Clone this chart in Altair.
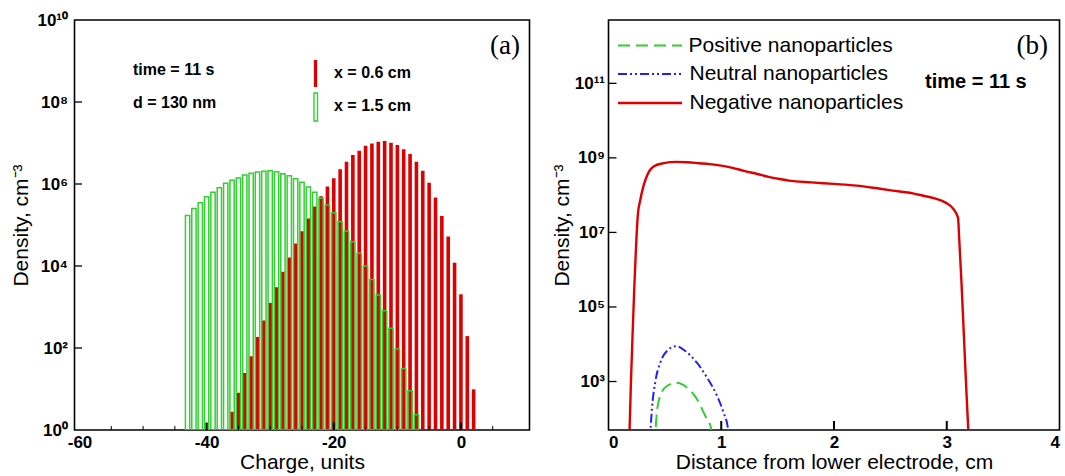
import altair as alt
import pandas as pd

# ---------------- Panel (a): charge distribution ----------------
charge_green = list(range(-43, -6))          # x = 1.5 cm
dens_green = [1.70e5, 2.51e5, 3.47e5, 4.90e5, 6.31e5, 8.13e5, 1.05e6, 1.23e6,
              1.41e6, 1.66e6, 1.82e6, 1.95e6, 2.04e6, 2.09e6, 2.00e6, 1.78e6,
              1.58e6, 1.35e6, 1.10e6, 8.5e5, 6.3e5, 4.47e5, 3.09e5, 2.0e5,
              1.2e5, 7.08e4, 3.89e4, 2.04e4, 1.0e4, 4.68e3, 1.95e3, 813,
              302, 95, 31.6, 9.1, 2.34]
charge_red = list(range(-36, 3))             # x = 0.6 cm
dens_red = [2.8, 8.1, 24.5, 63, 186, 468, 1.26e3, 3.02e3, 7.24e3, 1.62e4,
            3.55e4, 7.08e4, 1.45e5, 2.82e5, 5.01e5, 8.71e5, 1.38e6, 2.29e6,
            3.47e6, 5.13e6, 6.46e6, 8.51e6, 9.77e6, 1.07e7, 1.12e7, 1.02e7,
            8.91e6, 7.08e6, 5.37e6, 3.47e6, 2.09e6, 1.07e6, 4.68e5, 1.66e5,
            5.25e4, 1.2e4, 2.04e3, 195, 9.8]
a_xticks = [-60, -40, -20, 0]
a_xminor = [-55, -50, -45, -35, -30, -25, -15, -10, -5, 5]
a_yticks = [1, 100, 10000, 1000000, 100000000, 10000000000]
a_ylabels = ["10⁰", "10²", "10⁴", "10⁶", "10⁸", "10¹⁰"]

# ---------------- Panel (b): spatial profiles ----------------
neg_x = [0.183, 0.198, 0.213, 0.228, 0.243, 0.26, 0.281, 0.311, 0.346, 0.40,
         0.49, 0.60, 0.70, 0.80, 0.90, 1.00, 1.10, 1.20, 1.32, 1.42, 1.52,
         1.60, 1.80, 2.00, 2.20, 2.41, 2.60, 2.70, 2.80, 2.90, 2.99, 3.06,
         3.10, 3.11, 3.13, 3.15, 3.17, 3.19, 3.20]
neg_n = [20, 760, 1.66e4, 2.9e5, 3.4e6, 2.9e7, 7.2e7, 1.8e8, 3.6e8, 5.9e8,
         7.2e8, 7.8e8, 7.6e8, 7.2e8, 6.8e8, 6.2e8, 5.4e8, 4.5e8, 3.7e8, 3.1e8,
         2.7e8, 2.45e8, 2.2e8, 2.0e8, 1.8e8, 1.48e8, 1.23e8, 1.12e8, 9.5e7,
         8.1e7, 6.3e7, 4.2e7, 2.5e7, 7.2e6, 5.0e5, 2.3e4, 1.05e3, 59, 20]
neu_x = [0.365, 0.385, 0.414, 0.459, 0.518, 0.60, 0.68, 0.784, 0.873, 0.962,
         1.02, 1.06, 1.07]
neu_n = [20, 182, 933, 3.2e3, 6.6e3, 8.9e3, 6.6e3, 3.2e3, 1.29e3, 417, 148,
         54, 20]
pos_x = [0.41, 0.429, 0.459, 0.518, 0.607, 0.695, 0.784, 0.858, 0.911, 0.92]
pos_n = [20, 148, 417, 759, 933, 692, 339, 120, 54, 20]
b_xticks = [0, 1, 2, 3, 4]
b_yticks = [1000, 100000, 10000000, 1000000000, 100000000000]
b_ylabels = ["10³", "10⁵", "10⁷", "10⁹", "10¹¹"]

RED = "#dd0000"
GREEN = "#2fd02f"
BLUE = "#2020ff"
FONT = "Liberation Sans"

WA, HA = 455, 410
WB, HB = 451, 410
GAP = 79
LEFT, TOP = 74.5, 20


def label_expr(vals, labels):
    expr = "''"
    for v, l in reversed(list(zip(vals, labels))):
        expr = f"datum.value == {v} ? '{l}' : ({expr})"
    return expr


def text(t, x, y, **kw):
    return alt.Chart(pd.DataFrame({"t": [t]})).mark_text(**kw).encode(
        text="t:N", x=alt.value(x), y=alt.value(y))


# ---------- panel (a) ----------
xs_a = alt.Scale(domain=[-60, 10], nice=False, zero=False)
ys_a = alt.Scale(type="log", domain=[1, 1e10], nice=False)
ax_ax = alt.Axis(values=a_xticks, title="Charge, units", grid=False,
                 ticks=False, domain=False, labelPadding=4, titlePadding=1,
                 labelFontWeight="bold", labelExpr="toString(datum.value)")
ax_ay = alt.Axis(values=a_yticks, labelExpr=label_expr(a_yticks, a_ylabels),
                 title="Density, cm⁻³", grid=False, ticks=False, domain=False,
                 labelPadding=7, titlePadding=5, labelFontWeight="bold")


def XA(f):
    return alt.X(f, scale=xs_a, axis=ax_ax)


def YA(f):
    return alt.Y(f, scale=ys_a, axis=ax_ay)


df_red = pd.DataFrame({"q": charge_red, "n": dens_red})
df_green = pd.DataFrame({"q": charge_green, "n": dens_green})

red_bars = alt.Chart(df_red).mark_bar(color=RED, size=3.6, clip=True).encode(
    x=XA("q:Q"), y=YA("n:Q"), y2=alt.datum(1))
green_bars = alt.Chart(df_green).mark_bar(
    filled=False, color=GREEN, strokeWidth=1.5, size=4.3, clip=True).encode(
    x=XA("q:Q"), y=YA("n:Q"), y2=alt.datum(1))
xa_major = alt.Chart(pd.DataFrame({"q": [-40, -20, 0]})).mark_rule(
    color="black", strokeWidth=2.2).encode(
    x=XA("q:Q"), y=alt.value(HA), y2=alt.value(HA - 7.5))
xa_minor = alt.Chart(pd.DataFrame({"q": a_xminor})).mark_rule(
    color="black", strokeWidth=1).encode(
    x=XA("q:Q"), y=alt.value(HA), y2=alt.value(HA - 4))
ya_ticks = alt.Chart(pd.DataFrame({"n": a_yticks[1:-1]})).mark_rule(
    color="black", strokeWidth=1.3).encode(
    y=YA("n:Q"), x=alt.value(0), x2=alt.value(7.5))

leg_red = alt.Chart(pd.DataFrame({"k": [1]})).mark_rule(color=RED, strokeWidth=3.2).encode(
    x=alt.value(241), y=alt.value(40), y2=alt.value(67))
leg_green = alt.Chart(pd.DataFrame({"k": [1]})).mark_rect(
    filled=False, stroke=GREEN, strokeWidth=1.4).encode(
    x=alt.value(239.5), x2=alt.value(243), y=alt.value(73), y2=alt.value(101))

txt_kw = dict(font=FONT, fontSize=16, fontWeight="bold", align="left",
              baseline="middle", color="black")
panel_a = alt.layer(
    red_bars, green_bars, xa_major, xa_minor, ya_ticks, leg_red, leg_green,
    text("time = 11 s", 58.5, 50, **txt_kw),
    text("d = 130 nm", 58.5, 83, **txt_kw),
    text("x = 0.6 cm", 259.5, 53, **txt_kw),
    text("x = 1.5 cm", 259.5, 86, **txt_kw),
    text("(a)", 445.5, 26, font="Liberation Serif", fontSize=27, align="right",
         baseline="middle", color="black"),
).properties(width=WA, height=HA)

# ---------- panel (b) ----------
xs_b = alt.Scale(domain=[0, 4], nice=False, zero=False)
ys_b = alt.Scale(type="log", domain=[50, 5e12], nice=False)
ax_bx = alt.Axis(values=b_xticks, title="Distance from lower electrode, cm",
                 grid=False, ticks=False, domain=False, labelPadding=4,
                 titlePadding=1, labelFontWeight="bold", format="d")
ax_by = alt.Axis(values=b_yticks, labelExpr=label_expr(b_yticks, b_ylabels),
                 title="Density, cm⁻³", grid=False, ticks=False, domain=False,
                 labelPadding=4, titlePadding=2, labelFontWeight="bold")


def XB(f):
    return alt.X(f, scale=xs_b, axis=ax_bx)


def YB(f):
    return alt.Y(f, scale=ys_b, axis=ax_by)


df_neg = pd.DataFrame({"x": neg_x, "n": neg_n})
df_neu = pd.DataFrame({"x": neu_x, "n": neu_n})
df_pos = pd.DataFrame({"x": pos_x, "n": pos_n})

neg_line = alt.Chart(df_neg).mark_line(
    color=RED, strokeWidth=2.4, clip=True, interpolate="monotone").encode(
    x=XB("x:Q"), y=YB("n:Q"), order="x:Q")
neu_line = alt.Chart(df_neu).mark_line(
    color=BLUE, strokeWidth=2, clip=True, interpolate="monotone",
    strokeDash=[9, 3, 2, 3, 2, 3]).encode(x=XB("x:Q"), y=YB("n:Q"), order="x:Q")
pos_line = alt.Chart(df_pos).mark_line(
    color=GREEN, strokeWidth=2, clip=True, interpolate="monotone",
    strokeDash=[12, 6]).encode(x=XB("x:Q"), y=YB("n:Q"), order="x:Q")
xb_ticks = alt.Chart(pd.DataFrame({"x": [1, 2, 3]})).mark_rule(
    color="black", strokeWidth=2).encode(
    x=XB("x:Q"), y=alt.value(HB), y2=alt.value(HB - 9))
yb_ticks = alt.Chart(pd.DataFrame({"n": b_yticks})).mark_rule(
    color="black", strokeWidth=1.3).encode(
    y=YB("n:Q"), x=alt.value(0), x2=alt.value(8))


def leg_line(y, color, dash, width=2):
    kw = dict(color=color, strokeWidth=width)
    if dash:
        kw["strokeDash"] = dash
    return alt.Chart(pd.DataFrame({"k": [1]})).mark_rule(**kw).encode(
        x=alt.value(9.5), x2=alt.value(73.5), y=alt.value(y))


leg_kw = dict(font=FONT, fontSize=21, align="left", baseline="middle", color="black")
panel_b = alt.layer(
    neg_line, neu_line, pos_line, xb_ticks, yb_ticks,
    leg_line(25.5, GREEN, [12, 6]),
    leg_line(54, BLUE, [9, 3, 2, 3, 2, 3]),
    leg_line(83, RED, None, 2.4),
    text("Positive nanoparticles", 80, 25.5, **leg_kw),
    text("Neutral nanoparticles", 81, 54, **leg_kw),
    text("Negative nanoparticles", 81, 83, **leg_kw),
    text("time = 11 s", 316.5, 61.5, font=FONT, fontSize=20, fontWeight="bold",
         align="left", baseline="middle", color="black"),
    text("(b)", 439.5, 25.5, font="Liberation Serif", fontSize=27, align="right",
         baseline="middle", color="black"),
).properties(width=WB, height=HB)

chart = alt.hconcat(panel_a, panel_b, spacing=GAP, bounds="flush").properties(
    autosize=alt.AutoSizeParams(type="none"),
    padding={"left": LEFT, "top": TOP, "right": 1065 - LEFT, "bottom": 476 - TOP},
    background="white",
).configure_view(stroke="black", strokeWidth=1.6).configure_axis(
    labelFont=FONT, labelFontSize=17, labelColor="black",
    titleFont=FONT, titleFontSize=21, titleFontWeight="normal", titleColor="black",
)

chart.save("out.html", embed_options={"renderer": "svg", "actions": False})
